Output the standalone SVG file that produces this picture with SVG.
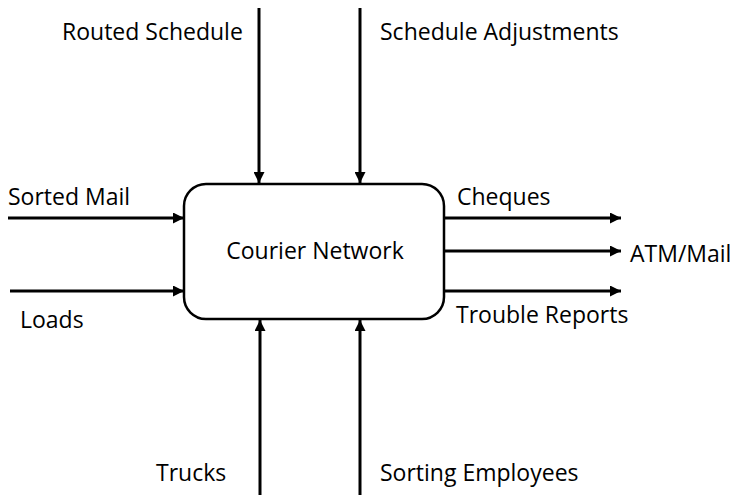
<svg xmlns="http://www.w3.org/2000/svg" width="738" height="495" viewBox="0 0 738 495">
<defs>
<marker id="ah" viewBox="0 0 10 10" refX="10" refY="5" markerWidth="11" markerHeight="11" markerUnits="userSpaceOnUse" orient="auto">
<path d="M0,0 L10,5 L0,10 Z" fill="#000"/>
</marker>
<style>
text{font-family:"Open Sans","Noto Sans",sans-serif;font-size:23px;fill:#000}
.c{stroke:#000;stroke-width:3;fill:none;marker-end:url(#ah)}
</style>
</defs>
<rect width="738" height="495" fill="#fff"/>
<g id="connectors">
<line class="c" x1="259" y1="8" x2="259" y2="183"/>
<line class="c" x1="360" y1="8" x2="360" y2="183"/>
<line class="c" x1="260" y1="495" x2="260" y2="320"/>
<line class="c" x1="360" y1="495" x2="360" y2="320"/>
<line class="c" x1="8" y1="218" x2="184" y2="218"/>
<line class="c" x1="10" y1="291" x2="184" y2="291"/>
<line class="c" x1="444" y1="218" x2="621" y2="218"/>
<line class="c" x1="444" y1="251" x2="621" y2="251"/>
<line class="c" x1="444" y1="291" x2="621" y2="291"/>
</g>
<g id="courier-network">
<rect x="184" y="184" width="260" height="135" rx="22" ry="22" fill="#fff" stroke="#000" stroke-width="2.5"/>
<text x="315" y="259" text-anchor="middle">Courier Network</text>
</g>
<g id="labels">
<text x="62" y="40">Routed Schedule</text>
<text x="380" y="40">Schedule Adjustments</text>
<text x="8" y="205">Sorted Mail</text>
<text x="20" y="328">Loads</text>
<text x="457" y="205">Cheques</text>
<text x="630" y="262">ATM/Mail</text>
<text x="456" y="323">Trouble Reports</text>
<text x="156" y="481">Trucks</text>
<text x="380" y="481">Sorting Employees</text>
</g>
</svg>
